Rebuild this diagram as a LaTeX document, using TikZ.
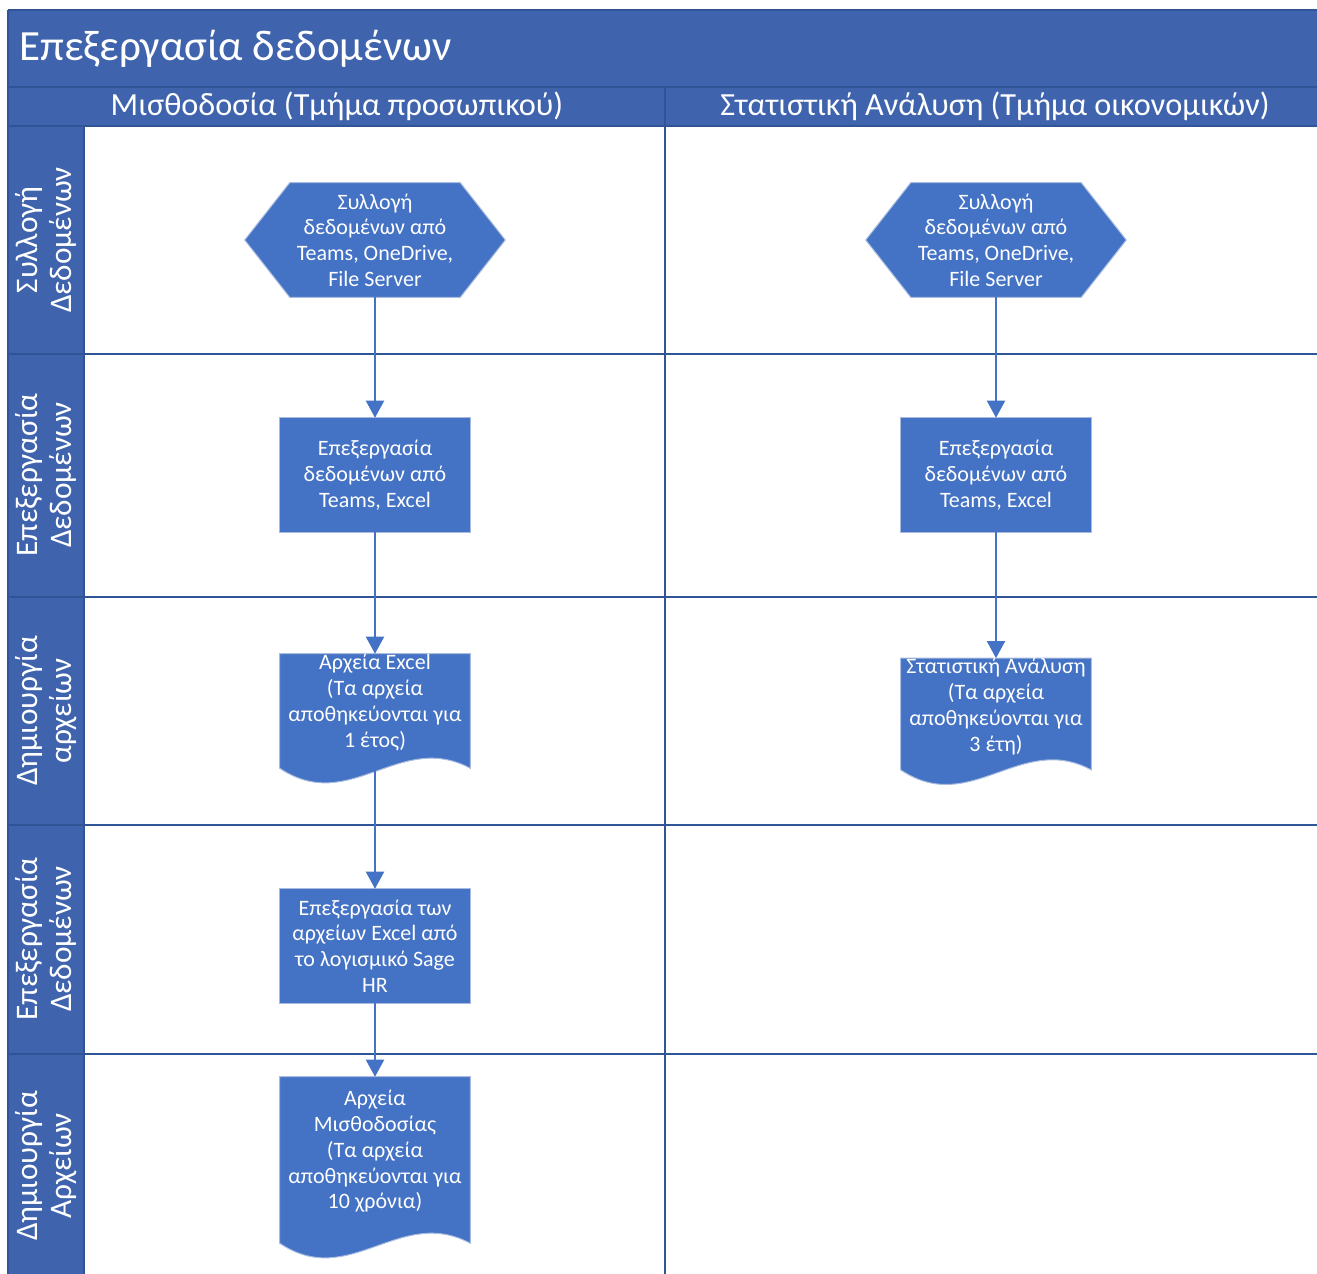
\documentclass[tikz,border=0pt]{standalone}
\usepackage{fontspec}
\setmainfont{Carlito}
\usetikzlibrary{arrows.meta,calc}
\pgfdeclarelayer{bg}
\pgfsetlayers{bg,main}
\definecolor{hdr}{HTML}{3F64AD}
\definecolor{laneline}{HTML}{2F5597}
\definecolor{shp}{HTML}{4472C4}
\definecolor{shpline}{HTML}{A9BCE0}
\tikzset{
  lanel/.style={draw=laneline, line width=1.5pt},
  titletxt/.style={text=white, font=\fontsize{32.3}{38}\selectfont, inner sep=0pt},
  headtxt/.style={text=white, font=\fontsize{24.2}{29}\selectfont, inner sep=0pt},
  sidetxt/.style={text=white, font=\fontsize{23.5}{25.5}\selectfont, align=center, rotate=90, inner sep=0pt},
  boxtxt/.style={text=white, font=\fontsize{16.5}{19.3}\selectfont, align=center, inner sep=0pt},
  hexnode/.style={boxtxt, minimum width=195pt, minimum height=85.5pt},
  rectnode/.style={boxtxt, minimum width=142.5pt, minimum height=85.5pt},
  docnode/.style={boxtxt, minimum width=142.5pt},
  shapefill/.style={fill=shp, draw=shpline, line width=0.75pt},
  flow/.style={draw=shp, line width=1.5pt, -{Triangle[width=13.5pt,length=12.75pt]}}
}
\newcommand\hexpath[1]{%
  \path[shapefill] (#1.west) -- ($(#1.north west)+(45,0)$) -- ($(#1.north east)+(-45,0)$)
    -- (#1.east) -- ($(#1.south east)+(-45,0)$) -- ($(#1.south west)+(45,0)$) -- cycle;}
\newcommand\rectpath[1]{%
  \path[shapefill] (#1.north west) rectangle (#1.south east);}
\newcommand\docpath[2]{%
  \path[shapefill] (#1.north west) -- (#1.north east) -- ($(#1.south east)+(0,#2)$)
    .. controls ($(#1.south west)+(120,#2-38)$) and ($(#1.south west)+(70,#2+47)$)
    .. ($(#1.south west)+(0,#2)$) -- cycle;}
\begin{document}
\begin{tikzpicture}[x=0.75pt,y=-0.75pt]
\useasboundingbox (0,0) rectangle (1317,1274);
% header areas
\fill[hdr] (8,10) rectangle (1317,126);
\fill[hdr] (8,126) rectangle (84,1274);
% lines
\draw[lanel] (8,10) -- (1317,10);
\draw[lanel] (8,10) -- (8,1274);
\draw[lanel] (8,87) -- (1317,87);
\draw[lanel] (8,126) -- (1317,126);
\draw[lanel] (84,126) -- (84,1274);
\draw[lanel] (665,87) -- (665,1274);
\foreach \yy in {354,597,825,1054} {\draw[lanel] (8,\yy) -- (1317,\yy);}
% titles
\node[titletxt, anchor=west] (title) at (19,49) {Επεξεργασία δεδομένων};
\node[headtxt] (colA) at (337,106) {Μισθοδοσία (Τμήμα προσωπικού)};
\node[headtxt] (colB) at (995,106) {Στατιστική Ανάλυση (Τμήμα οικονομικών)};
\node[sidetxt] (rowA) at (46,240) {Συλλογή\\Δεδομένων};
\node[sidetxt] (rowB) at (46,475) {Επεξεργασία\\Δεδομένων};
\node[sidetxt] (rowC) at (46,711) {Δημιουργία\\αρχείων};
\node[sidetxt] (rowD) at (46,939) {Επεξεργασία\\Δεδομένων};
\node[sidetxt] (rowE) at (46,1166) {Δημιουργία\\Αρχείων};
% left column
\node[hexnode] (h1) at (375,240) {Συλλογή\\δεδομένων από\\Teams, OneDrive,\\File Server};
\node[rectnode] (r2) at (375,475) {Επεξεργασία\\δεδομένων από\\Teams, Excel};
\node[docnode, minimum height=72.75pt] (d3) at (375,702.5) {Αρχεία Excel\\(Τα αρχεία\\αποθηκεύονται για\\1 έτος)};
\node[rectnode] (r4) at (375,946) {Επεξεργασία των\\αρχείων Excel από\\το λογισμικό Sage\\HR};
\node[docnode, minimum height=111.75pt] (d5) at (375,1151.5) {Αρχεία\\Μισθοδοσίας\\(Τα αρχεία\\αποθηκεύονται για\\10 χρόνια)};
% right column
\node[hexnode] (h1r) at (996,240) {Συλλογή\\δεδομένων από\\Teams, OneDrive,\\File Server};
\node[rectnode] (r2r) at (996,475) {Επεξεργασία\\δεδομένων από\\Teams, Excel};
\node[docnode, minimum height=69.75pt] (d3r) at (996,706.5) {Στατιστική Ανάλυση\\(Τα αρχεία\\αποθηκεύονται για\\3 έτη)};
% shapes
\begin{pgfonlayer}{bg}
\hexpath{h1}
\hexpath{h1r}
\rectpath{r2}
\rectpath{r2r}
\rectpath{r4}
\docpath{d3}{17}
\docpath{d3r}{15}
\docpath{d5}{17}
\end{pgfonlayer}
% connectors
\draw[flow] (h1) -- (r2);
\draw[flow] (r2) -- (d3);
\draw[flow] ($(d3.south)+(0,17)$) -- (r4);
\draw[flow] (r4) -- (d5);
\draw[flow] (h1r) -- (r2r);
\draw[flow] (r2r) -- (d3r);
\end{tikzpicture}
\end{document}
